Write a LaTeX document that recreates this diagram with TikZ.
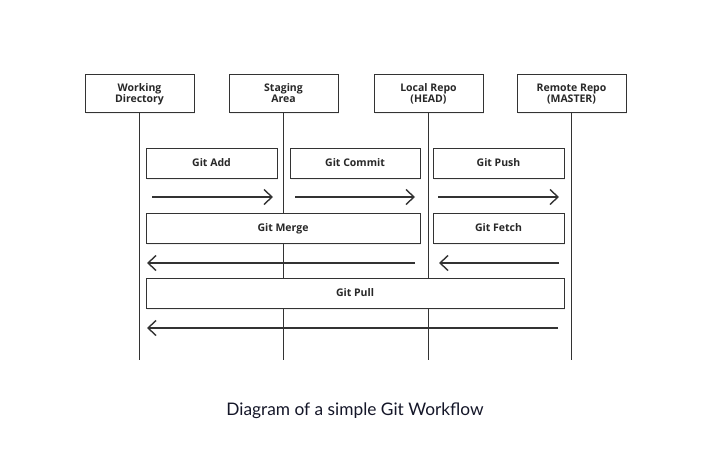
\documentclass[tikz,border=0pt]{standalone}
\usepackage{fontspec}
\setmainfont{Lato}
\newfontfamily\boxfont{Open Sans}
\usetikzlibrary{positioning}
\usetikzlibrary{shadows}
\usetikzlibrary{arrows.meta}

\begin{document}
\begin{tikzpicture}[x=1pt,y=-1pt,>={Straight Barb[length=8pt,width=15pt,line width=1.4pt]},
	repo/.style={draw=linegray,fill=white,line width=1pt,minimum width=109pt,minimum height=38pt,
		inner sep=0pt,align=center,text depth=0pt,font=\boxfont\bfseries\fontsize{10.5}{10.5}\selectfont,text=textgray,
		drop shadow={shadow xshift=1pt,shadow yshift=-1.5pt,opacity=0.12}},
	cmd/.style={draw=linegray,fill=white,line width=0.8pt,minimum height=30pt,inner sep=0pt,
		text height=7.5pt,text depth=0pt,font=\boxfont\bfseries\fontsize{10.5}{12}\selectfont,text=textgray,
		drop shadow={shadow xshift=1pt,shadow yshift=-1.5pt,opacity=0.12}},
	life/.style={draw=linegray,line width=0.8pt},
	flow/.style={->,draw=linegray,line width=1.6pt}]
	
	\definecolor{linegray}{RGB}{51,51,51}
	\definecolor{textgray}{RGB}{40,40,40}
	\definecolor{captioncol}{RGB}{20,22,40}
	
	\useasboundingbox (0,0) rectangle (722,450);
	
	% repositories
	\node[repo] (wd) at (139.5,93) {Working\\Directory};
	\node[repo] (sa) at (283.5,93) {Staging\\Area};
	\node[repo] (lr) at (428.5,93) {Local Repo\\(HEAD)};
	\node[repo] (rr) at (571.5,93) {Remote Repo\\(MASTER)};
	
	% life lines
	\coordinate (bot) at (0,360);
	\draw[life] (wd.south) -- (wd.south |- bot);
	\draw[life] (sa.south) -- (sa.south |- bot);
	\draw[life] (lr.south) -- (lr.south |- bot);
	\draw[life] (rr.south) -- (rr.south |- bot);
	
	% commands
	\node[cmd,minimum width=131pt] (add) at (211.5,163) {Git Add};
	\node[cmd,minimum width=130pt] (commit) at (355,163) {Git Commit};
	\node[cmd,minimum width=131pt] (push) at (498.5,163) {Git Push};
	\node[cmd,minimum width=274pt] (merge) at (283,228) {Git Merge};
	\node[cmd,minimum width=131pt] (fetch) at (498.5,228) {Git Fetch};
	\node[cmd,minimum width=418pt] (pull) at (355,293) {Git Pull};
	
	% arrow ends
	\coordinate (a1) at (152,197);  \coordinate (a2) at (273,197);
	\coordinate (c1) at (295,197);  \coordinate (c2) at (415,197);
	\coordinate (p1) at (438,197);  \coordinate (p2) at (559,197);
	\coordinate (m1) at (415,263);  \coordinate (m2) at (147,263);
	\coordinate (f1) at (559,263);  \coordinate (f2) at (439,263);
	\coordinate (l1) at (558,328);  \coordinate (l2) at (147,328);
	
	\draw[flow] (a1) -- (a2);
	\draw[flow] (c1) -- (c2);
	\draw[flow] (p1) -- (p2);
	\draw[flow] (m1) -- (m2);
	\draw[flow] (f1) -- (f2);
	\draw[flow] (l1) -- (l2);
	
	\node[text=captioncol,font=\fontsize{17.3}{20}\selectfont] (caption) at (355,411) {Diagram of a simple Git Workflow};
\end{tikzpicture}
\end{document}
